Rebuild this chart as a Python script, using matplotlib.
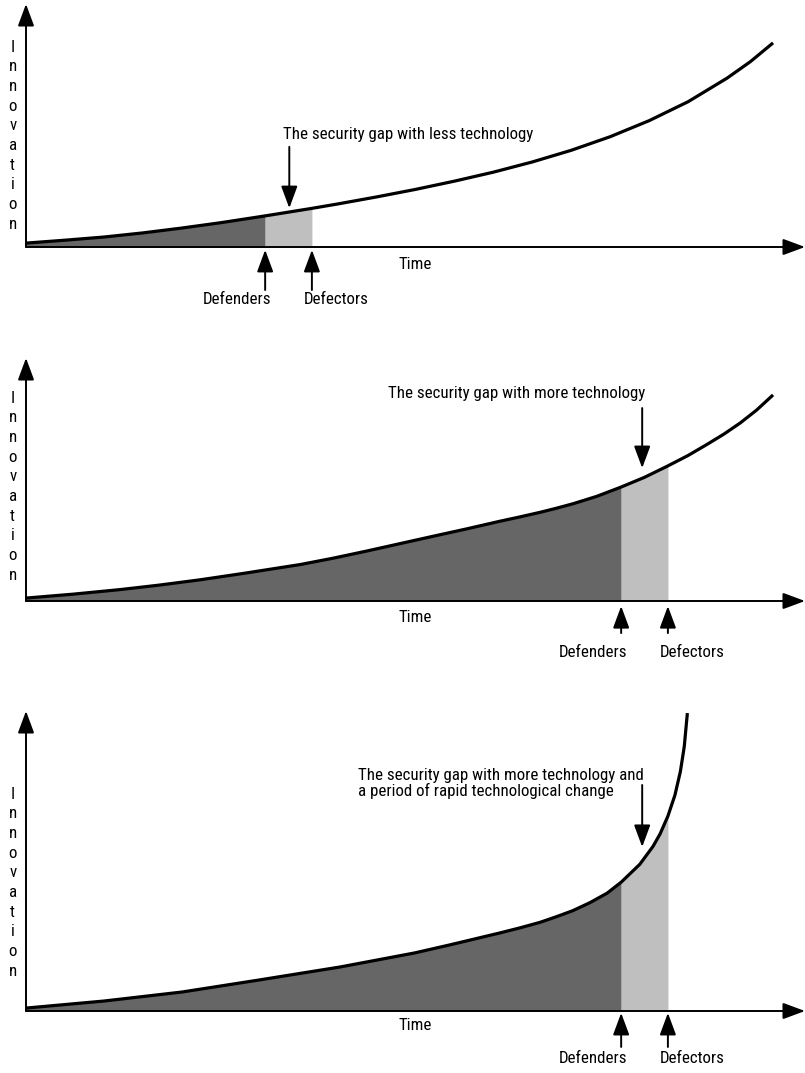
import matplotlib.pyplot as plt
from matplotlib import font_manager
import numpy as np

## figure size in pixels
W, H = 805, 1073

## data (time 0..100, innovation in arbitrary units)
time_1 = [0, 5, 10, 15, 20, 25, 30.7, 36.7, 40, 45, 50, 55, 60, 65, 70, 75, 80, 85, 90, 93, 95.9]
innov_1 = [1.6, 2.8, 4.1, 5.8, 7.8, 10.0, 12.8, 15.9, 17.7, 20.6, 23.7, 27.1, 30.8, 35.0,
           39.8, 45.4, 52.0, 59.8, 69.5, 76.3, 84.0]

time_2 = [0, 6, 12.1, 17, 22.3, 28, 35.2, 39.4, 43.8, 48.0, 52.2, 56.6, 60.8, 63.4, 66.0,
          68.0, 70.2, 73.3, 76.4, 79.4, 82.4, 85.0, 87.4, 89.6, 91.7, 93.8, 95.9]
innov_2 = [1.2, 2.8, 4.7, 6.5, 8.7, 11.4, 15.0, 17.6, 20.6, 23.6, 26.6, 29.7, 32.8, 34.6,
           36.5, 38.1, 40.0, 43.1, 46.9, 50.9, 55.6, 59.9, 64.4, 68.7, 73.3, 78.6, 84.8]

time_3 = [0, 10, 20, 30, 40.3, 49.9, 54.4, 60.8, 63.4, 66.0, 68.0, 70.2, 72.4, 74.6, 76.4,
          78.8, 80.5, 81.4, 82.4, 83.3, 84.0, 84.5, 84.9]
innov_3 = [1.2, 4.1, 7.8, 12.8, 18.1, 23.9, 27.2, 32.1, 34.2, 36.5, 38.7, 41.3, 44.6, 48.5,
           53.0, 60.4, 67.8, 72.9, 80.2, 88.8, 98.5, 108.8, 122.6]

## where the defenders and defectors are on the time axis
defenders = [30.7, 76.4, 76.4]
defectors = [36.7, 82.4, 82.4]

captions = ["The security gap with less technology",
            "The security gap with more technology",
            "The security gap with more technology and\na period of rapid technological change"]

## colors
dark_gray = '#666666'
light_gray = '#bfbfbf'

## pick a narrow sans font if one is around
available = {f.name for f in font_manager.fontManager.ttflist}
FONT = 'DejaVu Sans'
for cand in ['Liberation Sans Narrow', 'Roboto Condensed', 'DejaVu Sans Condensed', 'Roboto']:
    if cand in available:
        FONT = cand
        break
FS = 12.2 if 'Narrow' in FONT or 'Condensed' in FONT else 10.8

PX_PER_UNIT = 2.43      # innovation units -> pixels

## panel layout: (x axis y pixel, top of y axis pixel)
panels = [(247, 4), (601, 358), (1011, 711)]

## where the labels sit for each panel (in data units)
caption_pos = [(33.0, 46.5), (46.5, 85.2), (42.6, 93.6)]
down_arrow = [(33.8, 41.2, 16.0), (79.1, 79.4, 54.7), (79.1, 93.0, 67.5)]
label_y = [(-1.2, -17.7, -21.4), (-2.1, -13.2, -21.0), (-0.8, -14.8, -19.7)]
time_y = [-7.0, -6.6, -5.8]
innov_y = [45.8, 47.0, 52.8]

fig = plt.figure(figsize=(W / 100, H / 100), dpi=100)

def head(length, width):
    return f'-|>,head_length={length},head_width={width}'

def arrow(ax, xy, xytext):
    ax.annotate('', xy=xy, xytext=xytext, annotation_clip=False,
                arrowprops=dict(arrowstyle=head(1.35, 0.5), mutation_scale=10,
                                lw=1.4, color='black', shrinkA=0, shrinkB=0))

series = [(time_1, innov_1), (time_2, innov_2), (time_3, innov_3)]

for i, (t, v) in enumerate(series):
    axis_px, top_px = panels[i]
    ymax = (axis_px - top_px) / PX_PER_UNIT
    ax = fig.add_axes([26 / W, 1 - axis_px / H, (W - 26) / W, (axis_px - top_px) / H])
    ax.set_xlim(0, 100)
    ax.set_ylim(0, ymax)
    ax.axis('off')

    t = np.array(t)
    v = np.array(v)

    ## shaded areas under the curve
    dark = t <= defenders[i]
    light = (t >= defenders[i]) & (t <= defectors[i])
    ax.fill_between(t[dark], 0, v[dark], color=dark_gray, lw=0)
    ax.fill_between(t[light], 0, v[light], color=light_gray, lw=0)

    ## the curve
    ax.plot(t, v, color='black', lw=2.3, solid_capstyle='butt', solid_joinstyle='round',
            clip_on=False)

    ## axes with arrows
    arrow(ax, (100, 0), (0, 0))
    arrow(ax, (0, ymax), (0, 0))

    ## axis labels
    ax.text(50, time_y[i], 'Time', ha='center', va='center', fontsize=FS, family=FONT)
    ax.text(-1.7, innov_y[i], '\n'.join('Innovation'), ha='center', va='center',
            fontsize=FS, family=FONT, linespacing=1.39)

    ## caption and down arrow
    ax.text(caption_pos[i][0], caption_pos[i][1], captions[i], ha='left', va='center',
            fontsize=FS, family=FONT, linespacing=1.05)
    ax_x, y0, y1 = down_arrow[i]
    arrow(ax, (ax_x, y1), (ax_x, y0))

    ## defenders / defectors arrows
    tip, tail, lab = label_y[i]
    for x, name, dx in [(defenders[i], 'Defenders', -3.6), (defectors[i], 'Defectors', 3.1)]:
        arrow(ax, (x, tip), (x, tail))
        ax.text(x + dx, lab, name, ha='center', va='center', fontsize=FS, family=FONT)

fig.savefig('out.png', dpi=100)
